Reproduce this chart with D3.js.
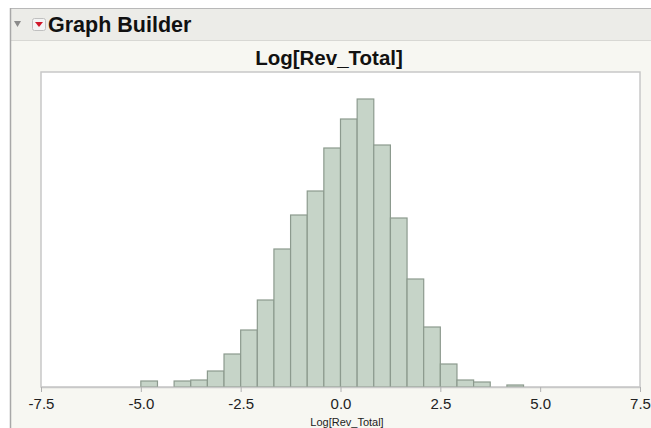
<!DOCTYPE html>
<html>
<head>
<meta charset="utf-8">
<script src="https://cdn.jsdelivr.net/npm/d3@7/dist/d3.min.js"></script>
<style>
  body { margin: 0; background: #ffffff; }
  svg text { font-family: "Liberation Sans", Arial, sans-serif; }
</style>
</head>
<body>
<div id="chart"></div>
<script>
// histogram bins: left edges (bin width 2.5/6) and counts
var binWidth = 2.5 / 6;
var binStarts = [-5.0, -4.583, -4.167, -3.75, -3.333, -2.917, -2.5, -2.083, -1.667, -1.25, -0.833, -0.417,
                 0.0, 0.417, 0.833, 1.25, 1.667, 2.083, 2.5, 2.917, 3.333, 3.75, 4.167];
var counts = [6, 0, 6, 7, 16, 33, 57, 87, 138, 172, 196, 239,
              268, 288, 242, 169, 108, 60, 23, 7, 5, 0, 2];
var xTicks = [-7.5, -5.0, -2.5, 0.0, 2.5, 5.0, 7.5];

var W = 651, H = 428;
var plot = {left: 41, right: 640, top: 72, bottom: 387};

var svg = d3.select("#chart").append("svg")
    .attr("width", W)
    .attr("height", H);

// outer panel
svg.append("rect").attr("x", 10).attr("y", 8).attr("width", W - 10).attr("height", H - 8)
    .attr("fill", "#f7f7f2");
svg.append("rect").attr("x", 10).attr("y", 8).attr("width", W - 10).attr("height", 33)
    .attr("fill", "#ececE8");
svg.append("line").attr("x1", 10).attr("x2", W).attr("y1", 8.5).attr("y2", 8.5)
    .attr("stroke", "#b8b8b8");
svg.append("line").attr("x1", 10).attr("x2", W).attr("y1", 40.5).attr("y2", 40.5)
    .attr("stroke", "#d8d8d4");
svg.append("line").attr("x1", 10.5).attr("x2", 10.5).attr("y1", 8).attr("y2", H)
    .attr("stroke", "#a8a8a8").attr("stroke-width", 1.5);

// disclosure triangle and red menu icon
svg.append("path").attr("d", "M14,21 L21,21 L17.5,27 Z").attr("fill", "#8a8a8a");
svg.append("rect").attr("x", 32.5).attr("y", 18.5).attr("width", 13).attr("height", 12).attr("rx", 2)
    .attr("fill", "#f4f4f4").attr("stroke", "#c0c0c0");
svg.append("path").attr("d", "M35,22 L43,22 L39,27 Z").attr("fill", "#d0192b");
svg.append("text").attr("x", 48).attr("y", 32)
    .attr("font-size", 21.5).attr("font-weight", "bold").attr("fill", "#111")
    .text("Graph Builder");

// chart title
svg.append("text").attr("x", 329).attr("y", 65).attr("text-anchor", "middle")
    .attr("font-size", 20.5).attr("font-weight", "bold").attr("fill", "#111")
    .text("Log[Rev_Total]");

// plot frame
svg.append("rect").attr("x", plot.left).attr("y", plot.top)
    .attr("width", plot.right - plot.left).attr("height", plot.bottom - plot.top)
    .attr("fill", "#ffffff").attr("stroke", "#c8c8c8").attr("stroke-width", 1.5);

var x = d3.scaleLinear().domain([-7.5, 7.5]).range([plot.left, plot.right]);
var y = d3.scaleLinear().domain([0, 315]).range([plot.bottom, plot.top]);

var bins = binStarts.map(function(s, i) { return {x0: s, x1: s + binWidth, n: counts[i]}; })
    .filter(function(d) { return d.n > 0; });

svg.selectAll(".bar")
    .data(bins)
    .enter().append("rect")
    .attr("class", "bar")
    .attr("x", function(d) { return x(d.x0); })
    .attr("y", function(d) { return y(d.n); })
    .attr("width", function(d) { return x(d.x1) - x(d.x0); })
    .attr("height", function(d) { return y(0) - y(d.n); })
    .attr("fill", "#c6d4c8")
    .attr("stroke", "#8c9a8e")
    .attr("stroke-width", 1.2);

// x axis (plain hyphen for negatives, like the original)
var axis = svg.append("g")
    .attr("transform", "translate(0," + plot.bottom + ")")
    .call(d3.axisBottom(x).tickValues(xTicks)
        .tickFormat(function(d) { return d.toFixed(1); })
        .tickSize(5).tickSizeOuter(0));
axis.select(".domain").attr("stroke", "#c8c8c8").attr("stroke-width", 1.5);
axis.selectAll(".tick line").attr("stroke", "#b0b0b0");
axis.selectAll(".tick text").attr("font-size", 15).attr("fill", "#222").attr("dy", "0.95em")
    .style("font-family", "'Liberation Sans', Arial, sans-serif");

svg.append("text").attr("x", 347).attr("y", 426).attr("text-anchor", "middle")
    .attr("font-size", 11).attr("fill", "#222")
    .text("Log[Rev_Total]");
</script>
</body>
</html>
